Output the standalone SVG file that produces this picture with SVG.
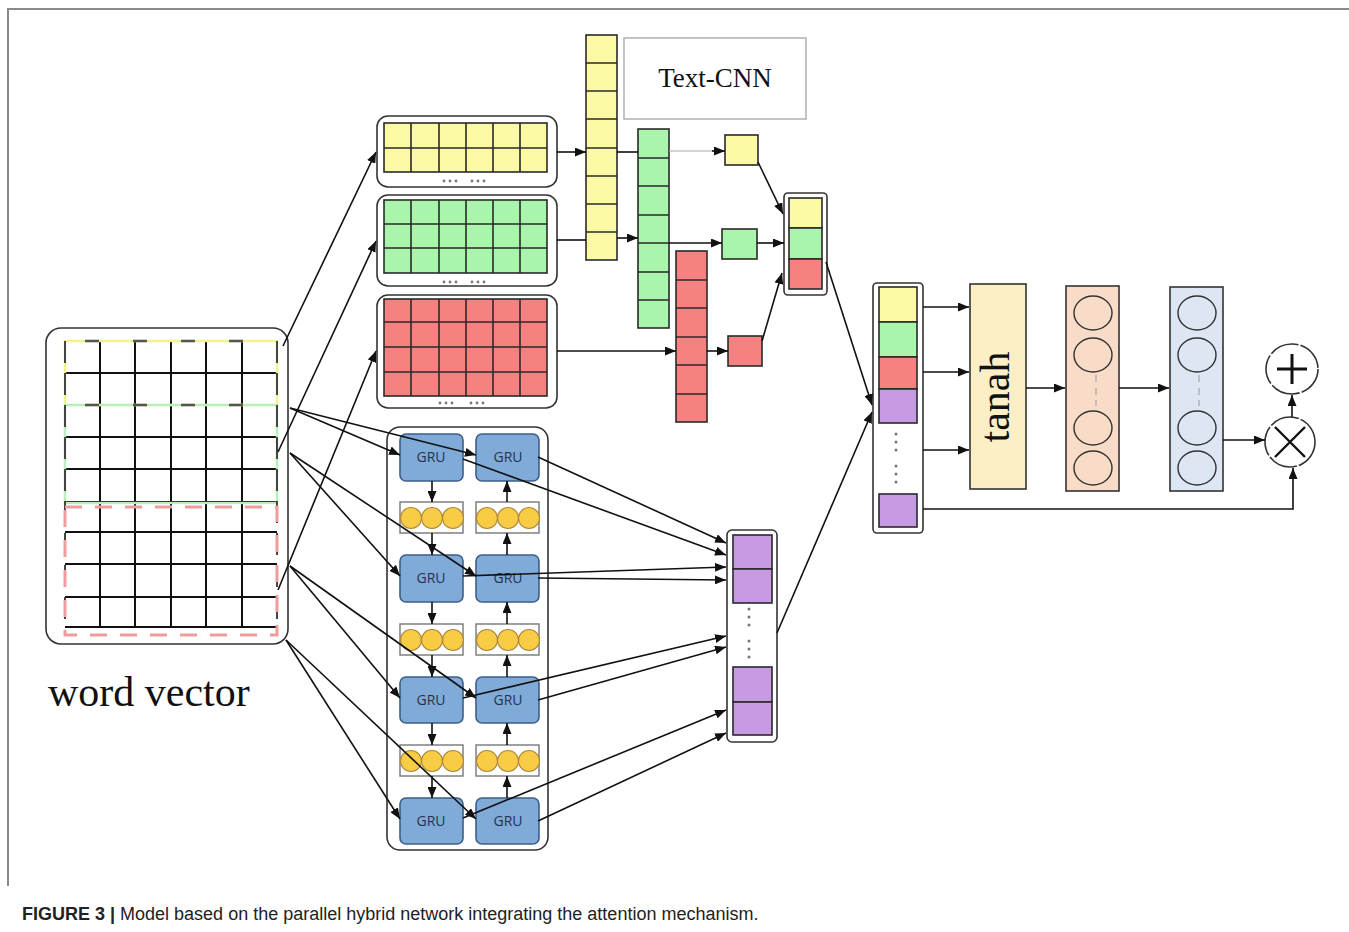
<svg xmlns="http://www.w3.org/2000/svg" width="1349" height="932" viewBox="0 0 1349 932">
  <style>
    .frame { fill: none; stroke: #8a8a8a; stroke-width: 2; }
    .panel { fill: #fff; stroke: #333; stroke-width: 1.6; }
    .grid { fill: none; stroke: #111; stroke-width: 2; }
    .cell { stroke: #2a2a2a; stroke-width: 1.6; }
    .yel { fill: #fbf8a6; }
    .grn { fill: #a9f5ab; }
    .red { fill: #f58181; }
    .pur { fill: #c79be3; }
    .dot { fill: #777; }
    .gru { fill: #80aad8; stroke: #3d5f86; stroke-width: 1.6; }
    .gru-t { font-family: "Open Sans", "Liberation Sans", sans-serif; font-size: 14px; fill: #1f3552; text-anchor: middle; }
    .strip { fill: #fff; stroke: #777; stroke-width: 1.4; }
    .bead { fill: #f8cd45; stroke: #b0893a; stroke-width: 1.2; }
    .ln { fill: none; stroke: #111; stroke-width: 1.6; }
    .ln-faint { fill: none; stroke: #aaa; stroke-width: 1.2; }
    .serif { font-family: "Liberation Serif", "DejaVu Serif", serif; fill: #111; }
    .unit { fill: none; stroke: #333; stroke-width: 1.4; }
  </style>
  <defs>
    <marker id="a" markerUnits="userSpaceOnUse" markerWidth="11" markerHeight="9" refX="11" refY="4.5" orient="auto">
      <path d="M0,0 L11,4.5 L0,9 z" fill="#111"/>
    </marker>
  </defs>

  <!-- outer frame -->
  <path class="frame" d="M8,886 L8,9 L1349,9"/>

  <!-- word vector matrix -->
  <g id="word-vector">
    <rect class="panel" x="46" y="328" width="242" height="316" rx="15"/>
    <g class="grid">
      <path d="M100,341 V627 M135,341 V627 M171,341 V627 M206,341 V627 M242,341 V627"/>
      <path d="M65,373 H277 M65,437 H277 M65,469 H277 M65,502 H277 M65,532 H277 M65,564 H277 M65,597 H277 M65,627 H277"/>
    </g>
    <!-- sliding windows -->
    <rect x="65" y="341" width="212" height="64" fill="none" stroke="#f2f28a" stroke-width="2.4"/>
    <rect x="65" y="405" width="212" height="98" fill="none" stroke="#b9f0b9" stroke-width="2.4"/>
    <path d="M65,341 H277 M65,405 H277" fill="none" stroke="#555" stroke-width="2.4" stroke-dasharray="14 34" stroke-dashoffset="-20"/>
    <path d="M65,341 V627 M277,341 V627" fill="none" stroke="#444" stroke-width="2" stroke-dasharray="22 10"/>
    <rect x="65" y="507" width="212" height="128" fill="none" stroke="#f19c9c" stroke-width="3" stroke-dasharray="17 13"/>
    <text class="serif" x="48" y="706" font-size="42">word vector</text>
  </g>

  <!-- convolution feature maps -->
  <g id="conv-maps">
    <g id="conv-yellow">
      <rect class="panel" x="377" y="116" width="180" height="71" rx="11"/>
      <rect class="yel cell" x="384" y="123" width="163" height="49"/>
      <path class="cell" fill="none" d="M384,148 H547 M411,123 V172 M439,123 V172 M466,123 V172 M493,123 V172 M520,123 V172"/>
      <g class="dot"><circle cx="444" cy="181" r="1.4"/><circle cx="450" cy="181" r="1.4"/><circle cx="456" cy="181" r="1.4"/><circle cx="472" cy="181" r="1.4"/><circle cx="478" cy="181" r="1.4"/><circle cx="484" cy="181" r="1.4"/></g>
    </g>
    <g id="conv-green">
      <rect class="panel" x="377" y="195" width="180" height="91" rx="11"/>
      <rect class="grn cell" x="384" y="200" width="163" height="73"/>
      <path class="cell" fill="none" d="M384,224 H547 M384,248 H547 M411,200 V273 M439,200 V273 M466,200 V273 M493,200 V273 M520,200 V273"/>
      <g class="dot"><circle cx="444" cy="282" r="1.4"/><circle cx="450" cy="282" r="1.4"/><circle cx="456" cy="282" r="1.4"/><circle cx="472" cy="282" r="1.4"/><circle cx="478" cy="282" r="1.4"/><circle cx="484" cy="282" r="1.4"/></g>
    </g>
    <g id="conv-red">
      <rect class="panel" x="377" y="295" width="180" height="113" rx="11"/>
      <rect class="red cell" x="384" y="299" width="163" height="97"/>
      <path class="cell" fill="none" d="M384,322 H547 M384,347 H547 M384,372 H547 M411,299 V396 M439,299 V396 M466,299 V396 M493,299 V396 M520,299 V396"/>
      <g class="dot"><circle cx="440" cy="403" r="1.4"/><circle cx="446" cy="403" r="1.4"/><circle cx="452" cy="403" r="1.4"/><circle cx="471" cy="403" r="1.4"/><circle cx="477" cy="403" r="1.4"/><circle cx="483" cy="403" r="1.4"/></g>
    </g>
  </g>

  <!-- Text-CNN label -->
  <g id="textcnn-label">
    <rect x="624" y="38" width="182" height="81" fill="#fff" stroke="#aaa" stroke-width="1.4"/>
    <text class="serif" x="715" y="87" font-size="27" text-anchor="middle" fill="#333">Text-CNN</text>
  </g>

  <!-- feature columns -->
  <g id="col-yellow">
    <rect class="yel cell" x="586" y="35" width="31" height="225"/>
    <path class="cell" d="M586,63 H617 M586,91 H617 M586,119 H617 M586,148 H617 M586,176 H617 M586,204 H617 M586,232 H617"/>
  </g>
  <g id="col-green">
    <rect class="grn cell" x="638" y="129" width="31" height="199"/>
    <path class="cell" d="M638,158 H669 M638,186 H669 M638,215 H669 M638,243 H669 M638,272 H669 M638,300 H669"/>
  </g>
  <g id="col-red">
    <rect class="red cell" x="676" y="251" width="31" height="171"/>
    <path class="cell" d="M676,280 H707 M676,308 H707 M676,337 H707 M676,365 H707 M676,394 H707"/>
  </g>

  <!-- pooled values -->
  <g id="pool-yellow"><rect class="yel cell" x="725" y="135" width="33" height="30"/></g>
  <g id="pool-green"><rect class="grn cell" x="722" y="229" width="35" height="30"/></g>
  <g id="pool-red"><rect class="red cell" x="728" y="336" width="34" height="30"/></g>

  <!-- concatenated CNN vector -->
  <g id="cnn-concat">
    <rect class="panel" x="784" y="193" width="43" height="102" rx="4"/>
    <rect class="yel cell" x="789" y="198" width="33" height="30"/>
    <rect class="grn cell" x="789" y="228" width="33" height="31"/>
    <rect class="red cell" x="789" y="259" width="33" height="30"/>
  </g>

  <!-- bidirectional GRU block -->
  <g id="gru-block">
    <rect class="panel" x="387" y="427" width="161" height="423" rx="13"/>
    <g id="gru-l1"><rect class="gru" x="400" y="434" width="63" height="47" rx="6"/><text class="gru-t" x="431" y="462">GRU</text></g>
    <g id="gru-r1"><rect class="gru" x="476" y="434" width="63" height="47" rx="6"/><text class="gru-t" x="508" y="462">GRU</text></g>
    <g id="gru-l2"><rect class="gru" x="400" y="555" width="63" height="47" rx="6"/><text class="gru-t" x="431" y="583">GRU</text></g>
    <g id="gru-r2"><rect class="gru" x="476" y="555" width="63" height="47" rx="6"/><text class="gru-t" x="508" y="583">GRU</text></g>
    <g id="gru-l3"><rect class="gru" x="400" y="677" width="63" height="46" rx="6"/><text class="gru-t" x="431" y="705">GRU</text></g>
    <g id="gru-r3"><rect class="gru" x="476" y="677" width="63" height="46" rx="6"/><text class="gru-t" x="508" y="705">GRU</text></g>
    <g id="gru-l4"><rect class="gru" x="400" y="798" width="63" height="46" rx="6"/><text class="gru-t" x="431" y="826">GRU</text></g>
    <g id="gru-r4"><rect class="gru" x="476" y="798" width="63" height="46" rx="6"/><text class="gru-t" x="508" y="826">GRU</text></g>

    <g id="hidden-states">
      <rect class="strip" x="400" y="502" width="63" height="31"/>
      <rect class="strip" x="476" y="502" width="63" height="31"/>
      <rect class="strip" x="400" y="624" width="63" height="31"/>
      <rect class="strip" x="476" y="624" width="63" height="31"/>
      <rect class="strip" x="400" y="745" width="63" height="31"/>
      <rect class="strip" x="476" y="745" width="63" height="31"/>
      <g class="bead">
        <circle cx="411" cy="518" r="10.5"/><circle cx="432" cy="518" r="10.5"/><circle cx="453" cy="518" r="10.5"/>
        <circle cx="487" cy="518" r="10.5"/><circle cx="508" cy="518" r="10.5"/><circle cx="529" cy="518" r="10.5"/>
        <circle cx="411" cy="640" r="10.5"/><circle cx="432" cy="640" r="10.5"/><circle cx="453" cy="640" r="10.5"/>
        <circle cx="487" cy="640" r="10.5"/><circle cx="508" cy="640" r="10.5"/><circle cx="529" cy="640" r="10.5"/>
        <circle cx="411" cy="761" r="10.5"/><circle cx="432" cy="761" r="10.5"/><circle cx="453" cy="761" r="10.5"/>
        <circle cx="487" cy="761" r="10.5"/><circle cx="508" cy="761" r="10.5"/><circle cx="529" cy="761" r="10.5"/>
      </g>
    </g>
  </g>

  <!-- GRU output vector -->
  <g id="gru-output">
    <rect class="panel" x="727" y="530" width="50" height="212" rx="5"/>
    <rect class="pur cell" x="733" y="535" width="39" height="34"/>
    <rect class="pur cell" x="733" y="569" width="39" height="34"/>
    <rect class="pur cell" x="733" y="667" width="39" height="35"/>
    <rect class="pur cell" x="733" y="702" width="39" height="33"/>
    <g class="dot">
      <circle cx="749" cy="609" r="1.5"/><circle cx="749" cy="617" r="1.5"/><circle cx="749" cy="625" r="1.5"/>
      <circle cx="749" cy="641" r="1.5"/><circle cx="749" cy="649" r="1.5"/><circle cx="749" cy="657" r="1.5"/>
    </g>
  </g>

  <!-- merged feature vector -->
  <g id="merged">
    <rect class="panel" x="873" y="283" width="50" height="250" rx="4"/>
    <rect class="yel cell" x="879" y="287" width="38" height="35"/>
    <rect class="grn cell" x="879" y="322" width="38" height="35"/>
    <rect class="red cell" x="879" y="357" width="38" height="32"/>
    <rect class="pur cell" x="879" y="389" width="38" height="34"/>
    <rect class="pur cell" x="879" y="494" width="38" height="33"/>
    <g class="dot">
      <circle cx="896" cy="434" r="1.5"/><circle cx="896" cy="442" r="1.5"/><circle cx="896" cy="450" r="1.5"/>
      <circle cx="896" cy="466" r="1.5"/><circle cx="896" cy="474" r="1.5"/><circle cx="896" cy="482" r="1.5"/>
    </g>
  </g>

  <!-- attention: tanh layer -->
  <g id="tanh">
    <rect x="970" y="284" width="56" height="205" fill="#fcefc6" stroke="#333" stroke-width="1.6"/>
    <text class="serif" transform="translate(1009,397) rotate(-90)" font-size="42" text-anchor="middle">tanah</text>
  </g>

  <g id="dense-1">
    <rect x="1066" y="286" width="53" height="205" fill="#f9dcc8" stroke="#333" stroke-width="1.6"/>
    <ellipse class="unit" cx="1093" cy="313" rx="19" ry="17"/>
    <ellipse class="unit" cx="1093" cy="355" rx="19" ry="17"/>
    <ellipse class="unit" cx="1093" cy="428" rx="19" ry="17"/>
    <ellipse class="unit" cx="1093" cy="468" rx="19" ry="17"/>
    <path d="M1096,375 V382 M1096,388 V395 M1096,400 V406" stroke="#999" stroke-width="1"/>
  </g>

  <g id="dense-2">
    <rect x="1170" y="287" width="53" height="204" fill="#dde7f3" stroke="#333" stroke-width="1.6"/>
    <ellipse class="unit" cx="1197" cy="313" rx="19" ry="17"/>
    <ellipse class="unit" cx="1197" cy="355" rx="19" ry="17"/>
    <ellipse class="unit" cx="1197" cy="428" rx="19" ry="17"/>
    <ellipse class="unit" cx="1197" cy="468" rx="19" ry="17"/>
    <path d="M1199,375 V382 M1199,388 V395 M1199,400 V406" stroke="#999" stroke-width="1"/>
  </g>

  <g id="op-mul">
    <circle cx="1290" cy="442" r="25" fill="#fff" stroke="#333" stroke-width="1.6" stroke-dasharray="30 2"/>
    <path d="M1275,427 L1305,457 M1305,427 L1275,457" stroke="#111" stroke-width="2.4"/>
  </g>
  <g id="op-add">
    <ellipse cx="1292" cy="369" rx="26" ry="25" fill="#fff" stroke="#333" stroke-width="1.6" stroke-dasharray="30 2"/>
    <path d="M1292,354 V384 M1277,369 H1307" stroke="#111" stroke-width="3"/>
  </g>

  <!-- connectors -->
  <g id="connectors">
    <!-- word vector to convolution maps -->
    <path class="ln" marker-end="url(#a)" d="M283,346 L376,152"/>
    <path class="ln" marker-end="url(#a)" d="M278,452 L376,241"/>
    <path class="ln" marker-end="url(#a)" d="M278,590 L376,351"/>
    <!-- convolution and pooling -->
    <path class="ln" marker-end="url(#a)" d="M557,152 L586,152"/>
    <path class="ln" d="M617,152 L638,152"/>
    <path class="ln-faint" d="M669,151 L714,151"/>
    <path class="ln" marker-end="url(#a)" d="M712,151 L725,151"/>
    <path class="ln" d="M557,240 L586,240"/>
    <path class="ln" marker-end="url(#a)" d="M617,238 L638,238"/>
    <path class="ln" marker-end="url(#a)" d="M669,243 L722,243"/>
    <path class="ln" marker-end="url(#a)" d="M557,351 L676,351"/>
    <path class="ln" marker-end="url(#a)" d="M707,351 L728,351"/>
    <path class="ln" marker-end="url(#a)" d="M758,162 L783,214"/>
    <path class="ln" marker-end="url(#a)" d="M757,243 L784,243"/>
    <path class="ln" marker-end="url(#a)" d="M762,341 L782,273"/>
    <!-- into merged vector -->
    <path class="ln" marker-end="url(#a)" d="M826,262 L872,405"/>
    <path class="ln" marker-end="url(#a)" d="M777,633 L872,412"/>
    <!-- word vector to GRU cells -->
    <path class="ln" marker-end="url(#a)" d="M290,408 L400,455"/>
    <path class="ln" marker-end="url(#a)" d="M290,408 L476,455"/>
    <path class="ln" marker-end="url(#a)" d="M290,453 L400,576"/>
    <path class="ln" marker-end="url(#a)" d="M290,453 L476,576"/>
    <path class="ln" marker-end="url(#a)" d="M290,566 L400,698"/>
    <path class="ln" marker-end="url(#a)" d="M290,566 L476,698"/>
    <path class="ln" marker-end="url(#a)" d="M286,640 L400,819"/>
    <path class="ln" marker-end="url(#a)" d="M286,640 L476,819"/>
    <!-- forward direction -->
    <path class="ln" marker-end="url(#a)" d="M432,481 L432,502"/>
    <path class="ln" marker-end="url(#a)" d="M432,533 L432,555"/>
    <path class="ln" marker-end="url(#a)" d="M432,602 L432,624"/>
    <path class="ln" marker-end="url(#a)" d="M432,655 L432,677"/>
    <path class="ln" marker-end="url(#a)" d="M432,723 L432,745"/>
    <path class="ln" marker-end="url(#a)" d="M432,776 L432,798"/>
    <!-- backward direction -->
    <path class="ln" marker-end="url(#a)" d="M507,555 L507,533"/>
    <path class="ln" marker-end="url(#a)" d="M507,502 L507,481"/>
    <path class="ln" marker-end="url(#a)" d="M507,677 L507,655"/>
    <path class="ln" marker-end="url(#a)" d="M507,624 L507,602"/>
    <path class="ln" marker-end="url(#a)" d="M507,798 L507,776"/>
    <path class="ln" marker-end="url(#a)" d="M507,745 L507,723"/>
    <!-- GRU states to output vector -->
    <path class="ln" marker-end="url(#a)" d="M538,457 L726,543"/>
    <path class="ln" marker-end="url(#a)" d="M463,459 L726,555"/>
    <path class="ln" marker-end="url(#a)" d="M463,576 L726,567"/>
    <path class="ln" marker-end="url(#a)" d="M538,578 L726,580"/>
    <path class="ln" marker-end="url(#a)" d="M463,698 L726,636"/>
    <path class="ln" marker-end="url(#a)" d="M538,700 L726,647"/>
    <path class="ln" marker-end="url(#a)" d="M463,818 L726,710"/>
    <path class="ln" marker-end="url(#a)" d="M538,821 L726,733"/>
    <!-- attention path -->
    <path class="ln" marker-end="url(#a)" d="M923,307 L969,307"/>
    <path class="ln" marker-end="url(#a)" d="M923,372 L969,372"/>
    <path class="ln" marker-end="url(#a)" d="M923,450 L969,450"/>
    <path class="ln" marker-end="url(#a)" d="M1026,388 L1065,388"/>
    <path class="ln" marker-end="url(#a)" d="M1119,388 L1169,388"/>
    <path class="ln" stroke-width="1.2" marker-end="url(#a)" d="M1223,440 L1265,440"/>
    <path class="ln" marker-end="url(#a)" d="M1292,417 L1292,395"/>
    <path class="ln" marker-end="url(#a)" d="M923,509 L1293,509 L1293,468"/>
  </g>

  <!-- caption -->
  <text x="22" y="920" font-family="Liberation Sans, Arial, sans-serif" font-size="18" fill="#222"><tspan font-weight="bold">FIGURE 3 |</tspan> Model based on the parallel hybrid network integrating the attention mechanism.</text>
</svg>
